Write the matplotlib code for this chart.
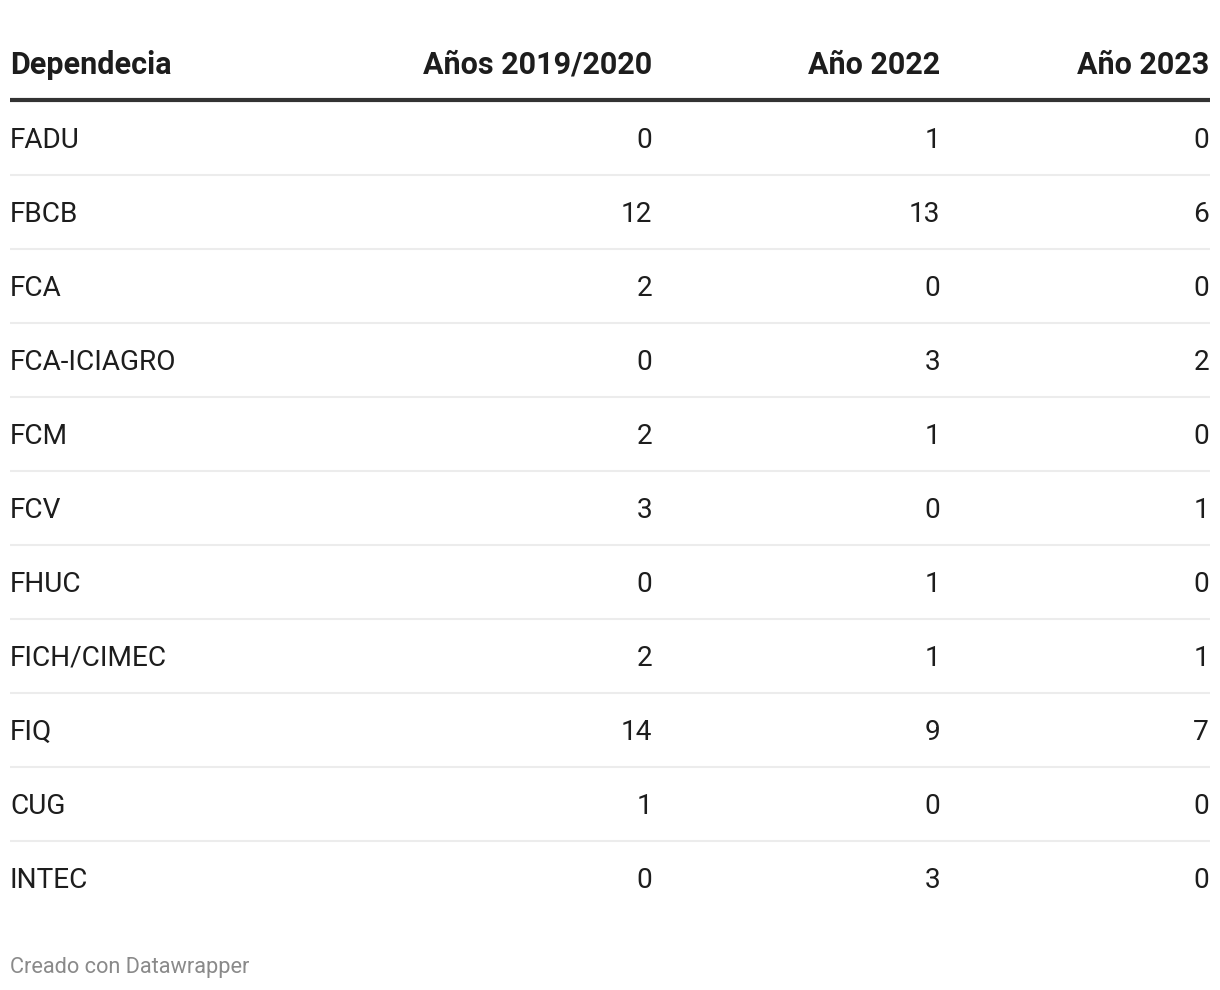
import matplotlib
matplotlib.use("Agg")
import matplotlib.pyplot as plt

plt.rcParams['font.family'] = ['Roboto', 'DejaVu Sans']

# ---- data ----
headers = ["Dependecia", "Años 2019/2020", "Año 2022", "Año 2023"]
dependencias = ["FADU", "FBCB", "FCA", "FCA-ICIAGRO", "FCM", "FCV", "FHUC",
                "FICH/CIMEC", "FIQ", "CUG", "INTEC"]
anios_2019_2020 = [0, 12, 2, 0, 2, 3, 0, 2, 14, 1, 0]
anio_2022 = [1, 13, 0, 3, 1, 0, 1, 1, 9, 0, 3]
anio_2023 = [0, 6, 0, 2, 0, 1, 0, 1, 7, 0, 0]
footer = "Creado con Datawrapper"

# ---- layout (pixel coordinates) ----
W, H = 1220, 990
fig = plt.figure(figsize=(W / 100, H / 100), dpi=100)
ax = fig.add_axes([0, 0, 1, 1])
ax.set_xlim(0, W)
ax.set_ylim(H, 0)
ax.axis('off')

left, right = 10, 1210
col_right = [652, 940, 1209]
header_y = 65
row0_y = 140
row_h = 74
txt_col = '#1d1d1d'
fs = 20.2
fs_head = 22

# header
ax.text(left, header_y, headers[0], ha='left', va='center', fontsize=fs_head,
        fontweight='bold', color=txt_col)
for h, xr in zip(headers[1:], col_right):
    ax.text(xr, header_y, h, ha='right', va='center', fontsize=fs_head,
            fontweight='bold', color=txt_col)
ax.plot([left, right], [100, 100], color='#333333', lw=3.0,
        solid_capstyle='butt')

# rows
columns = [anios_2019_2020, anio_2022, anio_2023]
for i, dep in enumerate(dependencias):
    y = row0_y + i * row_h
    ax.text(left, y, dep, ha='left', va='center', fontsize=fs, color=txt_col)
    for vals, xr in zip(columns, col_right):
        ax.text(xr, y, str(vals[i]), ha='right', va='center', fontsize=fs,
                color=txt_col)
    if i < len(dependencias) - 1:
        ax.plot([left, right], [y + 35, y + 35], color='#ececec', lw=1.5,
                solid_capstyle='butt')

# footer
ax.text(left, 968, footer, ha='left', va='center', fontsize=15.7,
        color='#8a8a8a')

fig.savefig('out.png', dpi=100, facecolor='white')
